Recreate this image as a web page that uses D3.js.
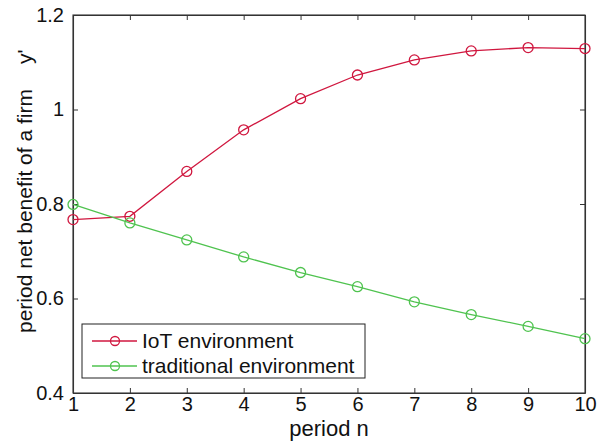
<!DOCTYPE html>
<html>
<head>
<meta charset="utf-8">
<script src="https://cdn.jsdelivr.net/npm/d3@7"></script>
<style>
  body { margin: 0; background: #fff; }
  svg { font-family: "Liberation Sans", Arial, sans-serif; }
</style>
</head>
<body>
<svg id="chart" width="603" height="444"></svg>
<script>
// data
const periods = [1, 2, 3, 4, 5, 6, 7, 8, 9, 10]
const iotValues = [0.767, 0.774, 0.869, 0.957, 1.023, 1.073, 1.105, 1.124, 1.131, 1.129]
const tradValues = [0.799, 0.760, 0.724, 0.688, 0.655, 0.625, 0.593, 0.566, 0.541, 0.515]
const seriesNames = ['IoT environment', 'traditional environment']
const yTicks = [0.4, 0.6, 0.8, 1, 1.2]

const margin = { top: 15, right: 18, bottom: 51, left: 73 }
const W = 603, H = 444
const w = W - margin.left - margin.right
const h = H - margin.top - margin.bottom

const red = '#d0173f'
const green = '#4fc34f'

const svg = d3.select('#chart')
const g = svg.append('g')
  .attr('transform', `translate(${margin.left},${margin.top})`)

const x = d3.scaleLinear().domain([1, 10]).range([0, w])
const y = d3.scaleLinear().domain([0.4, 1.2]).range([h, 0])

// axes, ticks pointing inward on every side
const tickLen = 5
g.append('g')
  .attr('transform', `translate(0,${h})`)
  .call(d3.axisBottom(x).tickValues(periods).tickFormat(d3.format('d')).tickSizeInner(-tickLen).tickSizeOuter(0).tickPadding(4))
  .attr('class', 'ax')
g.append('g')
  .call(d3.axisTop(x).tickValues(periods).tickFormat('').tickSizeInner(-tickLen).tickSizeOuter(0))
  .attr('class', 'ax')
g.append('g')
  .call(d3.axisLeft(y).tickValues(yTicks).tickFormat(d => d3.format('')(d)).tickSizeInner(-tickLen).tickSizeOuter(0).tickPadding(9))
  .attr('class', 'ax')
g.append('g')
  .attr('transform', `translate(${w},0)`)
  .call(d3.axisRight(y).tickValues(yTicks).tickFormat('').tickSizeInner(-tickLen).tickSizeOuter(0))
  .attr('class', 'ax')

g.selectAll('.ax .domain').attr('stroke', '#333').attr('stroke-width', 1.1)
g.selectAll('.ax .tick line').attr('stroke', '#333').attr('stroke-width', 1)
g.selectAll('.ax .tick text')
  .attr('fill', '#111')
  .style('font-size', '20px')
  .style('font-family', '"Liberation Sans", Arial, sans-serif')

// box
g.append('rect')
  .attr('width', w).attr('height', h)
  .attr('fill', 'none').attr('stroke', '#333').attr('stroke-width', 1.1)

// series
const series = [
  { name: seriesNames[0], values: iotValues, color: red },
  { name: seriesNames[1], values: tradValues, color: green }
]

const line = d3.line()
  .x((d, i) => x(periods[i]))
  .y(d => y(d))

series.forEach(s => {
  g.append('path')
    .datum(s.values)
    .attr('fill', 'none')
    .attr('stroke', s.color)
    .attr('stroke-width', 1.3)
    .attr('d', line)

  g.selectAll(null)
    .data(s.values)
    .enter()
    .append('circle')
    .attr('cx', (d, i) => x(periods[i]))
    .attr('cy', d => y(d))
    .attr('r', 5)
    .attr('fill', 'none')
    .attr('stroke', s.color)
    .attr('stroke-width', 1.3)
})

// axis labels
svg.append('text')
  .attr('x', margin.left + w / 2)
  .attr('y', 436)
  .attr('text-anchor', 'middle')
  .style('font-size', '22px')
  .attr('fill', '#111')
  .text('period n')

svg.append('text')
  .attr('transform', 'translate(32,333) rotate(-90)')
  .attr('text-anchor', 'start')
  .style('font-size', '21px')
  .attr('fill', '#111')
  .text('period net benefit of a firm')

svg.append('text')
  .attr('transform', 'translate(32,64) rotate(-90)')
  .attr('text-anchor', 'start')
  .style('font-size', '21px')
  .attr('fill', '#111')
  .text("y'")

// legend
const legend = svg.append('g').attr('transform', 'translate(82,324)')
legend.append('rect')
  .attr('width', 283).attr('height', 54)
  .attr('fill', '#fff').attr('stroke', '#222').attr('stroke-width', 1)

series.forEach((s, i) => {
  const row = legend.append('g').attr('transform', `translate(0,${17 + i * 25})`)
  row.append('line')
    .attr('x1', 10).attr('x2', 55)
    .attr('stroke', s.color).attr('stroke-width', 1.3)
  row.append('circle')
    .attr('cx', 33).attr('r', 4.5)
    .attr('fill', 'none').attr('stroke', s.color).attr('stroke-width', 1.3)
  row.append('text')
    .attr('x', 60).attr('y', 7)
    .style('font-size', '21px')
    .attr('fill', '#111')
    .text(s.name)
})
</script>
</body>
</html>
